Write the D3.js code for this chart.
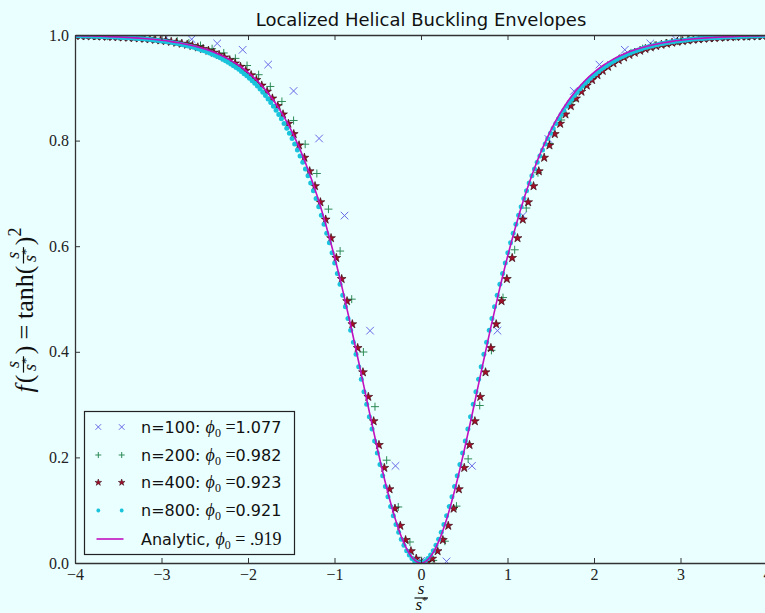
<!DOCTYPE html>
<html>
<head>
<meta charset="utf-8">
<script src="https://cdn.jsdelivr.net/npm/d3@7"></script>
<style>
  html, body { margin: 0; padding: 0; background: #eaffff; }
  svg { display: block; }
  .tick text { font-family: "Liberation Serif", "DejaVu Serif", serif; font-size: 16px; }
</style>
</head>
<body>
<svg id="chart" width="765" height="613"></svg>
<script>
// ---- data: envelope f(s/s*) sampled for each discretisation ----
const crossS = [-3.829,-3.534,-3.240,-2.945,-2.651,-2.356,-2.062,-1.767,-1.473,-1.178,-0.884,-0.589,-0.295,0.000,
  0.295,0.589,0.884,1.178,1.473,1.767,2.062,2.356,2.651,2.945,3.240,3.534,3.829];
const crossF = [.9995,.9990,.9980,.9960,.9920,.9840,.9720,.9440,.8940,.8040,.6580,.4400,.1840,.0040,
  .0030,.1840,.4400,.6580,.8030,.8940,.9440,.9720,.9840,.9920,.9960,.9980,.9990];

const plusS = [-3.894,-3.760,-3.625,-3.491,-3.356,-3.222,-3.087,-2.953,-2.818,-2.684,
  -2.549,-2.415,-2.280,-2.146,-2.011,-1.877,-1.742,-1.608,-1.473,-1.339,
  -1.204,-1.070,-0.935,-0.801,-0.666,-0.532,-0.397,-0.263,-0.128,0.007,
  0.141,0.276,0.410,0.545,0.679,0.814,0.948,1.083,1.217,1.352,
  1.486,1.621,1.755,1.890,2.024,2.159,2.293,2.428,2.562,2.697,
  2.831,2.966,3.100,3.235,3.369,3.504,3.638,3.773,3.907];
const plusF = [.9987,.9983,.9977,.9970,.9960,.9948,.9933,.9912,.9884,.9848,
  .9801,.9740,.9660,.9557,.9422,.9248,.9025,.8741,.8381,.7932,
  .7377,.6702,.5908,.4997,.3996,.2961,.1947,.1061,.0398,.0043,
  .0049,.0413,.1077,.1972,.2983,.4027,.5027,.5932,.6723,.7391,
  .7943,.8390,.8750,.9032,.9253,.9427,.9559,.9662,.9742,.9802,
  .9849,.9885,.9912,.9933,.9949,.9961,.9970,.9977,.9983];

const starS = [-3.997,-3.935,-3.874,-3.812,-3.751,-3.689,-3.627,-3.566,-3.504,-3.443,
  -3.381,-3.319,-3.258,-3.196,-3.135,-3.073,-3.011,-2.950,-2.888,-2.827,
  -2.765,-2.703,-2.642,-2.580,-2.519,-2.457,-2.395,-2.334,-2.272,-2.211,
  -2.149,-2.087,-2.026,-1.964,-1.903,-1.841,-1.779,-1.718,-1.656,-1.595,
  -1.533,-1.471,-1.410,-1.348,-1.287,-1.225,-1.163,-1.102,-1.040,-0.979,
  -0.917,-0.855,-0.794,-0.732,-0.671,-0.609,-0.547,-0.486,-0.424,-0.363,
  -0.301,-0.239,-0.178,-0.116,-0.055,0.007,0.069,0.130,0.192,0.253,
  0.315,0.377,0.438,0.500,0.561,0.623,0.685,0.746,0.808,0.869,
  0.931,0.993,1.054,1.116,1.177,1.239,1.301,1.362,1.424,1.485,
  1.547,1.609,1.670,1.732,1.793,1.855,1.917,1.978,2.040,2.101,
  2.163,2.225,2.286,2.348,2.409,2.471,2.533,2.594,2.656,2.717,
  2.779,2.841,2.902,2.964,3.025,3.087,3.149,3.210,3.272,3.333,
  3.395,3.457,3.518,3.580,3.641,3.703,3.765,3.826,3.888,3.949];
const starF = [.9986,.9984,.9981,.9979,.9976,.9973,.9970,.9966,.9962,.9956,
  .9951,.9945,.9938,.9930,.9921,.9910,.9899,.9886,.9872,.9855,
  .9836,.9816,.9793,.9766,.9737,.9703,.9666,.9624,.9576,.9524,
  .9463,.9398,.9322,.9240,.9148,.9043,.8927,.8798,.8655,.8497,
  .8319,.8124,.7910,.7676,.7420,.7138,.6833,.6505,.6153,.5778,
  .5379,.4960,.4523,.4072,.3612,.3147,.2686,.2236,.1802,.1398,
  .1030,.0705,.0435,.0225,.0082,.0009,.0009,.0082,.0225,.0435,
  .0705,.1030,.1398,.1802,.2236,.2686,.3147,.3612,.4072,.4523,
  .4960,.5379,.5778,.6153,.6505,.6833,.7138,.7420,.7676,.7910,
  .8124,.8319,.8497,.8655,.8798,.8927,.9043,.9148,.9240,.9322,
  .9398,.9463,.9524,.9576,.9624,.9666,.9703,.9737,.9766,.9793,
  .9816,.9836,.9855,.9872,.9886,.9899,.9910,.9921,.9930,.9938,
  .9945,.9951,.9956,.9962,.9966,.9970,.9973,.9976,.9979,.9981];

const dotS = [-3.985,-3.954,-3.924,-3.893,-3.862,-3.831,-3.800,-3.770,-3.739,-3.708,
  -3.677,-3.646,-3.616,-3.585,-3.554,-3.523,-3.492,-3.462,-3.431,-3.400,
  -3.369,-3.338,-3.308,-3.277,-3.246,-3.215,-3.184,-3.154,-3.123,-3.092,
  -3.061,-3.030,-3.000,-2.969,-2.938,-2.907,-2.876,-2.846,-2.815,-2.784,
  -2.753,-2.722,-2.692,-2.661,-2.630,-2.599,-2.568,-2.538,-2.507,-2.476,
  -2.445,-2.414,-2.384,-2.353,-2.322,-2.291,-2.260,-2.230,-2.199,-2.168,
  -2.137,-2.106,-2.076,-2.045,-2.014,-1.983,-1.952,-1.922,-1.891,-1.860,
  -1.829,-1.798,-1.768,-1.737,-1.706,-1.675,-1.644,-1.614,-1.583,-1.552,
  -1.521,-1.490,-1.460,-1.429,-1.398,-1.367,-1.336,-1.306,-1.275,-1.244,
  -1.213,-1.182,-1.152,-1.121,-1.090,-1.059,-1.028,-0.998,-0.967,-0.936,
  -0.905,-0.874,-0.844,-0.813,-0.782,-0.751,-0.720,-0.690,-0.659,-0.628,
  -0.597,-0.566,-0.536,-0.505,-0.474,-0.443,-0.412,-0.382,-0.351,-0.320,
  -0.289,-0.258,-0.228,-0.197,-0.166,-0.135,-0.104,-0.074,-0.043,-0.012,
  0.019,0.050,0.080,0.111,0.142,0.173,0.204,0.234,0.265,0.296,
  0.327,0.358,0.388,0.419,0.450,0.481,0.512,0.542,0.573,0.604,
  0.635,0.666,0.696,0.727,0.758,0.789,0.820,0.850,0.881,0.912,
  0.943,0.974,1.004,1.035,1.066,1.097,1.128,1.158,1.189,1.220,
  1.251,1.282,1.312,1.343,1.374,1.405,1.436,1.466,1.497,1.528,
  1.559,1.590,1.620,1.651,1.682,1.713,1.744,1.774,1.805,1.836,
  1.867,1.898,1.928,1.959,1.990,2.021,2.052,2.082,2.113,2.144,
  2.175,2.206,2.236,2.267,2.298,2.329,2.360,2.390,2.421,2.452,
  2.483,2.514,2.544,2.575,2.606,2.637,2.668,2.698,2.729,2.760,
  2.791,2.822,2.852,2.883,2.914,2.945,2.976,3.006,3.037,3.068,
  3.099,3.130,3.160,3.191,3.222,3.253,3.284,3.314,3.345,3.376,
  3.407,3.438,3.468,3.499,3.530,3.561,3.592,3.622,3.653,3.684,
  3.715,3.746,3.776,3.807,3.838,3.869,3.900,3.930,3.961,3.992];
const dotF = [.9985,.9984,.9982,.9981,.9980,.9979,.9977,.9976,.9974,.9973,
  .9970,.9969,.9967,.9965,.9964,.9962,.9958,.9955,.9953,.9950,
  .9946,.9943,.9940,.9936,.9932,.9928,.9923,.9918,.9913,.9907,
  .9901,.9895,.9888,.9882,.9874,.9867,.9857,.9848,.9839,.9828,
  .9817,.9806,.9794,.9780,.9766,.9752,.9735,.9718,.9701,.9681,
  .9661,.9641,.9617,.9594,.9569,.9541,.9513,.9484,.9453,.9418,
  .9385,.9349,.9309,.9268,.9228,.9182,.9135,.9085,.9032,.8976,
  .8916,.8855,.8790,.8722,.8650,.8575,.8496,.8414,.8326,.8236,
  .8140,.8040,.7935,.7823,.7709,.7590,.7462,.7333,.7195,.7051,
  .6904,.6747,.6586,.6418,.6243,.6065,.5876,.5683,.5485,.5279,
  .5070,.4854,.4633,.4409,.4179,.3952,.3717,.3481,.3243,.3007,
  .2772,.2538,.2310,.2085,.1865,.1654,.1447,.1254,.1069,.0894,
  .0731,.0583,.0451,.0334,.0233,.0150,.0085,.0038,.0010,0,
  .0010,.0038,.0085,.0150,.0233,.0334,.0451,.0583,.0731,.0894,
  .1069,.1254,.1447,.1654,.1865,.2085,.2310,.2538,.2772,.3007,
  .3243,.3481,.3717,.3952,.4179,.4409,.4633,.4854,.5070,.5279,
  .5485,.5683,.5876,.6065,.6243,.6418,.6586,.6747,.6904,.7051,
  .7195,.7333,.7462,.7590,.7709,.7823,.7935,.8040,.8140,.8236,
  .8326,.8414,.8496,.8575,.8650,.8722,.8790,.8855,.8916,.8976,
  .9032,.9085,.9135,.9182,.9228,.9268,.9309,.9349,.9385,.9418,
  .9453,.9484,.9513,.9541,.9569,.9594,.9617,.9641,.9661,.9681,
  .9701,.9718,.9735,.9752,.9766,.9780,.9794,.9806,.9817,.9828,
  .9839,.9848,.9857,.9867,.9874,.9882,.9888,.9895,.9901,.9907,
  .9913,.9918,.9923,.9928,.9932,.9936,.9940,.9943,.9946,.9950,
  .9953,.9955,.9958,.9962,.9964,.9965,.9967,.9969,.9970,.9973,
  .9974,.9976,.9977,.9979,.9980,.9981,.9982,.9984,.9985,.9986];

// analytic envelope, tabulated every 0.1
const analyticS = [-4.0,-3.9,-3.8,-3.7,-3.6,-3.5,-3.4,-3.3,-3.2,-3.1,-3.0,-2.9,-2.8,-2.7,-2.6,-2.5,-2.4,-2.3,-2.2,-2.1,
  -2.0,-1.9,-1.8,-1.7,-1.6,-1.5,-1.4,-1.3,-1.2,-1.1,-1.0,-0.9,-0.8,-0.7,-0.6,-0.5,-0.4,-0.3,-0.2,-0.1,
  0.0,0.1,0.2,0.3,0.4,0.5,0.6,0.7,0.8,0.9,1.0,1.1,1.2,1.3,1.4,1.5,1.6,1.7,1.8,1.9,
  2.0,2.1,2.2,2.3,2.4,2.5,2.6,2.7,2.8,2.9,3.0,3.1,3.2,3.3,3.4,3.5,3.6,3.7,3.8,3.9,4.0];
const analyticF = [.9987,.9984,.9980,.9975,.9970,.9964,.9955,.9946,.9934,.9919,.9901,.9880,.9853,.9821,.9782,.9734,.9676,.9606,.9520,.9418,
  .9293,.9144,.8964,.8750,.8495,.8193,.7838,.7426,.6950,.6408,.5800,.5131,.4409,.3653,.2884,.2136,.1444,.0849,.0390,.0099,
  0,.0099,.0390,.0849,.1444,.2136,.2884,.3653,.4409,.5131,.5800,.6408,.6950,.7426,.7838,.8193,.8495,.8750,.8964,.9144,
  .9293,.9418,.9520,.9606,.9676,.9734,.9782,.9821,.9853,.9880,.9901,.9919,.9934,.9946,.9955,.9964,.9970,.9975,.9980,.9984,.9987];

const xTicks = [-4, -3, -2, -1, 0, 1, 2, 3, 4];
const yTicks = [0, 0.2, 0.4, 0.6, 0.8, 1.0];
const legendNames = ["n=100: ", "n=200: ", "n=400: ", "n=800: "];
const legendPhi = ["1.077", "0.982", "0.923", "0.921"];
const analyticPhi = ".919";

// ---- drawing ----
const W = 765, H = 613;
const BG = "#eaffff";
const INK = "#222";
const SANS = "'DejaVu Sans', Verdana, sans-serif";
const SERIF = "'Liberation Serif', 'DejaVu Serif', serif";

const svg = d3.select("#chart");
svg.append("rect").attr("width", W).attr("height", H).attr("fill", BG);

const x = d3.scaleLinear().domain([-4, 4]).range([75, 767]);
const y = d3.scaleLinear().domain([0, 1]).range([563, 35]);

svg.append("defs").append("clipPath").attr("id", "plotClip")
  .append("rect").attr("x", 75).attr("y", 35).attr("width", 692).attr("height", 528);

// title
svg.append("text").attr("x", 421).attr("y", 26).attr("text-anchor", "middle")
  .style("font-family", SANS).style("font-size", "18px").attr("fill", "#111")
  .text("Localized Helical Buckling Envelopes");

// marker shapes
const crossPath = r => `M${-r},${-r}L${r},${r}M${-r},${r}L${r},${-r}`;
const plusPath = r => `M${-r},0H${r}M0,${-r}V${r}`;
const starSym = size => d3.symbol(d3.symbolStar, size)();

const COL = { n100: "#6868e6", n200: "#2e8b57", n400: "#a50e2a", n800: "#19c3dc", line: "#c010c0" };

const plot = svg.append("g").attr("clip-path", "url(#plotClip)");

plot.append("g").selectAll("path").data(crossS.map((s, i) => [s, crossF[i]])).join("path")
  .attr("transform", d => `translate(${x(d[0])},${y(d[1])})`)
  .attr("d", crossPath(3.8)).attr("stroke", COL.n100).attr("stroke-width", 1).attr("fill", "none");

plot.append("g").selectAll("path").data(plusS.map((s, i) => [s, plusF[i]])).join("path")
  .attr("transform", d => `translate(${x(d[0])},${y(d[1])})`)
  .attr("d", plusPath(4)).attr("stroke", COL.n200).attr("stroke-width", 1).attr("fill", "none");

plot.append("g").selectAll("path").data(starS.map((s, i) => [s, starF[i]])).join("path")
  .attr("transform", d => `translate(${x(d[0])},${y(d[1])})`)
  .attr("d", starSym(24)).attr("fill", COL.n400).attr("stroke", "#2a0008").attr("stroke-width", 0.6);

plot.append("g").selectAll("circle").data(dotS.map((s, i) => [s, dotF[i]])).join("circle")
  .attr("cx", d => x(d[0])).attr("cy", d => y(d[1])).attr("r", 2.5).attr("fill", COL.n800);

plot.append("path")
  .datum(analyticS.map((s, i) => [s, analyticF[i]]))
  .attr("d", d3.line().x(d => x(d[0])).y(d => y(d[1])).curve(d3.curveMonotoneX))
  .attr("fill", "none").attr("stroke", COL.line).attr("stroke-width", 1.6);

// axes with inward ticks
function styleAxis(g) {
  g.attr("font-family", SERIF).attr("font-size", 16);
  g.select(".domain").attr("stroke", "#333").attr("stroke-width", 1.3);
  g.selectAll(".tick line").attr("stroke", "#333").attr("stroke-width", 1);
  g.selectAll(".tick text").attr("fill", INK);
}
svg.append("g").attr("transform", "translate(0,563)")
  .call(d3.axisBottom(x).tickValues(xTicks).tickSize(-5).tickSizeOuter(0).tickPadding(6).tickFormat(d3.format("d")))
  .call(styleAxis);
svg.append("g").attr("transform", "translate(0,35)")
  .call(d3.axisTop(x).tickValues(xTicks).tickSize(-5).tickSizeOuter(0).tickFormat(() => ""))
  .call(styleAxis);
svg.append("g").attr("transform", "translate(75,0)")
  .call(d3.axisLeft(y).tickValues(yTicks).tickSize(-5).tickSizeOuter(0).tickPadding(6).tickFormat(d3.format(".1f")))
  .call(styleAxis);

// x label: s / s*
const xl = svg.append("g").attr("fill", "#111").style("font-family", SERIF);
xl.append("text").attr("x", 421).attr("y", 594).attr("text-anchor", "middle")
  .style("font-size", "17px").style("font-style", "italic").text("s");
xl.append("line").attr("x1", 414.5).attr("x2", 428).attr("y1", 598).attr("y2", 598)
  .attr("stroke", "#111").attr("stroke-width", 1.2);
const xden = xl.append("text").attr("x", 421.5).attr("y", 610).attr("text-anchor", "middle").style("font-size", "17px");
xden.append("tspan").style("font-style", "italic").text("s");
xden.append("tspan").style("font-size", "11px").attr("dy", -6).text("*");

// y label: f(s/s*) = tanh(s/s*)^2, built left-to-right then rotated
const ylab = svg.append("g").attr("transform", "translate(33,310) rotate(-90)");
const yin = ylab.append("g").attr("fill", "#111").style("font-family", SERIF);
let pen = 0;
function put(str, size, italic, base) {
  const t = yin.append("text").attr("x", pen).attr("y", base || 0)
    .style("font-size", size + "px").style("font-style", italic ? "italic" : "normal").text(str);
  pen += t.node().getComputedTextLength();
}
function gap(w) { pen += w; }
function fraction(size) {
  const x0 = pen + 2;
  const num = yin.append("text").attr("y", -14).style("font-size", size + "px")
    .style("font-style", "italic").attr("text-anchor", "middle").text("s");
  const den = yin.append("text").attr("y", 3).style("font-size", size + "px").attr("text-anchor", "middle");
  den.append("tspan").style("font-style", "italic").text("s");
  den.append("tspan").style("font-size", (size * 0.7) + "px").attr("dy", -6).text("*");
  const w = Math.max(num.node().getComputedTextLength(), den.node().getComputedTextLength()) + 3;
  num.attr("x", x0 + w / 2);
  den.attr("x", x0 + w / 2);
  yin.append("line").attr("x1", x0).attr("x2", x0 + w).attr("y1", -9.5).attr("y2", -9.5)
    .attr("stroke", "#111").attr("stroke-width", 1.2);
  pen = x0 + w + 2;
}
put("f", 26, true);
gap(2);
put("(", 26);
fraction(18);
put(")", 26);
gap(6);
put("=", 26);
gap(6);
put("tanh", 26);
put("(", 26);
fraction(18);
put(")", 26);
put("2", 18, false, -12);
yin.attr("transform", `translate(${-pen / 2},0)`);

// legend
const lg = svg.append("g");
lg.append("rect").attr("x", 84.5).attr("y", 411.5).attr("width", 210).attr("height", 143)
  .attr("fill", BG).attr("stroke", "#222").attr("stroke-width", 1.2);
const rowY = [427, 455, 482.5, 510.5, 539];
const mk = [98.3, 121.7];
mk.forEach(mx => {
  lg.append("path").attr("transform", `translate(${mx},${rowY[0]})`).attr("d", crossPath(2.8))
    .attr("stroke", COL.n100).attr("stroke-width", 1).attr("fill", "none");
  lg.append("path").attr("transform", `translate(${mx},${rowY[1]})`).attr("d", plusPath(3))
    .attr("stroke", COL.n200).attr("stroke-width", 1).attr("fill", "none");
  lg.append("path").attr("transform", `translate(${mx},${rowY[2]})`).attr("d", starSym(14))
    .attr("fill", COL.n400).attr("stroke", "#2a0008").attr("stroke-width", 0.5);
  lg.append("circle").attr("cx", mx).attr("cy", rowY[3]).attr("r", 1.9).attr("fill", COL.n800);
});
lg.append("line").attr("x1", 96.5).attr("x2", 123.5).attr("y1", rowY[4]).attr("y2", rowY[4])
  .attr("stroke", COL.line).attr("stroke-width", 1.6);

legendNames.forEach((name, i) => {
  const t = lg.append("text").attr("x", 141).attr("y", rowY[i] + 5.5)
    .style("font-family", SANS).style("font-size", "16px").attr("fill", "#111");
  t.append("tspan").text(name);
  t.append("tspan").style("font-family", SERIF).style("font-style", "italic").style("font-size", "18px").text("\u03D5");
  t.append("tspan").style("font-family", SERIF).style("font-size", "12px").attr("dy", 4).text("0");
  t.append("tspan").style("font-family", SERIF).style("font-size", "18px").attr("dy", -4).text(" =");
  t.append("tspan").text(legendPhi[i]);
});
const ta = lg.append("text").attr("x", 141).attr("y", rowY[4] + 5.5)
  .style("font-family", SANS).style("font-size", "16px").attr("fill", "#111");
ta.append("tspan").text("Analytic, ");
ta.append("tspan").style("font-family", SERIF).style("font-style", "italic").style("font-size", "18px").text("\u03D5");
ta.append("tspan").style("font-family", SERIF).style("font-size", "12px").attr("dy", 4).text("0");
ta.append("tspan").style("font-family", SERIF).style("font-size", "18px").attr("dy", -4).text(" = " + analyticPhi);
</script>
</body>
</html>
